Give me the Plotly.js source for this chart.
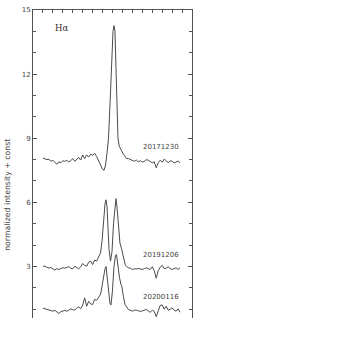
<!DOCTYPE html>
<html>
<head>
<meta charset="utf-8">
<script src="https://cdn.plot.ly/plotly-3.0.1.min.js"></script>
<style>html,body{margin:0;padding:0;background:#fff;}#plot{width:359px;height:359px;}</style>
</head>
<body>
<div id="plot"></div>
<script>
// Velocity grid (km/s) and normalized intensity + offset
const x2017 = [-700,-680,-660,-640,-620,-600,-580,-560,-540,-520,-500,-480,-460,-440,-420,-400,-380,-360,-340,-320,-300,-280,-260,-240,-220,-200,-180,-160,-140,-120,-100,-85,-70,-55,-40,-25,-10,5,15,25,35,45,55,68,80,95,110,126,140,160,180,200,220,240,260,280,300,320,340,360,380,400,420,440,460,480,500,520,540,560,580,600,620,640,660,680];
const y2017 = [8.07,8.05,8.00,8.02,7.92,7.97,7.85,7.78,7.90,7.85,7.95,7.92,7.96,7.90,7.95,8.05,7.92,8.02,8.10,7.98,8.22,8.05,8.22,8.12,8.25,8.20,8.30,8.15,7.95,7.75,7.55,7.50,7.75,8.30,9.00,10.6,12.7,14.0,14.27,14.0,12.3,10.0,9.0,8.63,8.5,8.4,8.25,8.16,8.05,8.05,8.00,7.95,7.92,7.98,7.90,7.95,7.88,7.92,8.00,7.97,7.90,7.85,7.90,7.62,7.85,7.97,7.88,8.02,7.95,7.85,7.95,7.92,7.85,7.90,7.93,7.85];

const x2019 = [-700,-680,-660,-640,-620,-600,-580,-560,-540,-520,-500,-480,-460,-440,-420,-400,-380,-360,-340,-320,-300,-280,-260,-240,-220,-200,-180,-160,-140,-120,-105,-90,-75,-65,-55,-45,-35,-20,-5,10,25,35,45,60,75,93,116,130,145,160,180,200,220,240,260,280,300,320,340,360,380,400,420,440,460,480,500,520,540,560,580,600,620,640,660,680];
const y2019 = [3.00,3.02,2.96,2.92,2.95,2.88,2.83,2.90,2.86,2.90,2.94,2.92,2.97,2.99,2.92,2.89,3.01,2.95,2.89,2.98,3.14,3.05,3.02,3.20,3.25,3.09,3.30,3.25,3.45,3.64,4.2,5.2,5.95,6.12,5.8,4.8,3.8,3.25,3.7,5.0,5.95,6.17,5.8,4.8,4.1,3.79,3.33,3.05,2.99,2.94,2.92,2.86,2.90,2.88,2.91,2.88,2.86,2.90,2.94,2.90,2.86,2.99,2.80,2.45,2.80,2.97,3.05,2.90,2.92,2.99,2.90,2.86,2.92,2.94,2.86,2.94];

const x2020 = [-700,-680,-660,-640,-620,-600,-580,-560,-540,-520,-500,-480,-460,-440,-420,-400,-380,-360,-340,-320,-300,-280,-260,-240,-220,-200,-180,-160,-140,-120,-105,-90,-75,-65,-55,-40,-25,-15,0,15,30,40,50,60,70,85,93,110,126,159,180,200,220,240,260,280,300,320,340,360,380,400,420,440,460,480,500,520,540,560,580,600,620,640,660,680];
const y2020 = [1.05,1.02,1.00,0.98,0.95,0.91,0.95,0.85,0.80,0.88,0.91,0.95,0.90,0.96,1.02,0.98,0.96,1.05,1.11,1.02,1.20,1.53,1.14,1.37,1.25,1.22,1.46,1.42,1.55,1.70,2.1,2.6,2.9,3.0,2.6,1.9,1.25,1.2,1.9,3.0,3.5,3.56,3.1,2.75,2.5,2.15,2.08,1.6,1.22,0.99,0.93,0.91,0.95,0.96,0.92,0.90,0.92,0.96,0.99,0.92,0.86,0.95,0.90,0.65,0.95,1.18,1.20,1.00,1.14,0.96,1.00,1.07,0.95,0.91,1.02,0.86];

const dateLabels = ["20171230","20191206","20200116"];
const labelY = [8.61,3.56,1.56];
const yTicks = [3,6,9,12,15];

const lineStyle = {color:'#4a4a4a', width:1};
const traces = [
  {x:x2017, y:y2017, mode:'lines', line:lineStyle, hoverinfo:'skip'},
  {x:x2019, y:y2019, mode:'lines', line:lineStyle, hoverinfo:'skip'},
  {x:x2020, y:y2020, mode:'lines', line:lineStyle, hoverinfo:'skip'}
];

const font = {family:'DejaVu Sans, Liberation Sans, sans-serif', size:7, color:'#444'};
const annotations = dateLabels.map((t,i)=>({
  x:686, y:labelY[i], xref:'x', yref:'y', text:t, showarrow:false,
  xanchor:'right', yanchor:'middle', font:font
}));
annotations.push({x:-518, y:14.18, xref:'x', yref:'y', text:'H\u03b1', showarrow:false,
  xanchor:'center', yanchor:'middle', font:{family:'DejaVu Serif, serif', size:8.5, color:'#333'}});
annotations.push({x:-0.157, y:0.40, xref:'paper', yref:'paper', text:'normalized intensity + const',
  textangle:-90, showarrow:false, xanchor:'center', yanchor:'middle',
  font:{family:'DejaVu Sans, Liberation Sans, sans-serif', size:7.8, color:'#444'}});

const layout = {
  width:359, height:359,
  margin:{l:33, r:167, t:10, b:41, pad:0},
  paper_bgcolor:'#fff', plot_bgcolor:'#fff',
  showlegend:false,
  xaxis:{range:[-800,800], side:'top', showline:true, linecolor:'#555', linewidth:1,
    ticks:'inside', ticklen:3, tickcolor:'#555', dtick:100, tick0:0,
    showticklabels:false, showgrid:false, zeroline:false, fixedrange:true},
  yaxis:{range:[0.59,15], showline:true, mirror:'ticks', linecolor:'#555', linewidth:1,
    ticks:'inside', ticklen:4, tickcolor:'#555', tickmode:'array', tickvals:yTicks,
    ticktext:yTicks.map(String), tickfont:font,
    minor:{dtick:1, tick0:0, ticks:'inside', ticklen:3, tickcolor:'#555', showgrid:false},
    showgrid:false, zeroline:false, fixedrange:true},
  annotations:annotations
};

Plotly.newPlot('plot', traces, layout, {staticPlot:true, displayModeBar:false});
</script>
</body>
</html>
